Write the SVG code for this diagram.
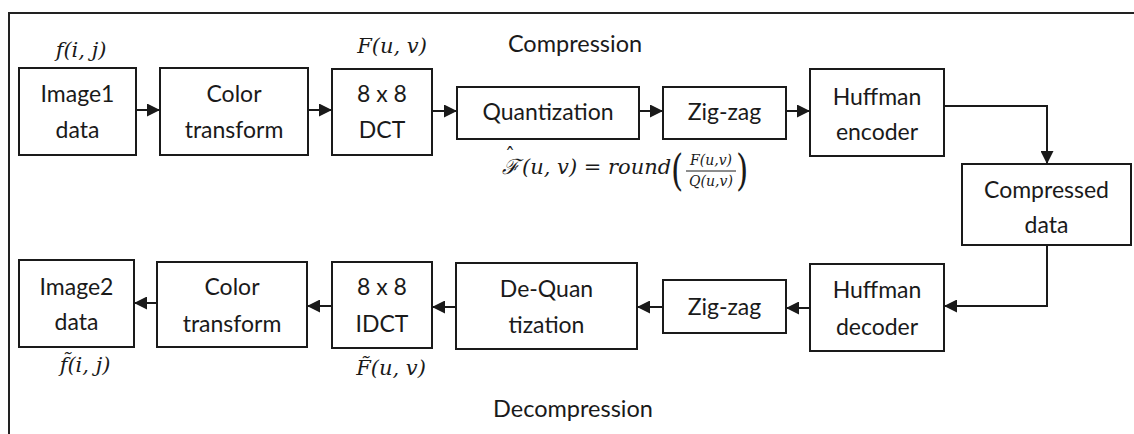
<svg xmlns="http://www.w3.org/2000/svg" width="1134" height="434" viewBox="0 0 1134 434">
  <style>
    .box { fill: #ffffff; stroke: #1a1a1a; stroke-width: 2; }
    .lbl { font-family: Lato, "Liberation Sans", sans-serif; font-size: 23px; fill: #1a1a1a; text-anchor: middle; }
    .title { font-family: Lato, "Liberation Sans", sans-serif; font-size: 23.5px; fill: #1a1a1a; text-anchor: middle; }
    .math { font-family: "DejaVu Serif", "Liberation Serif", serif; font-style: italic; font-size: 21px; fill: #1a1a1a; }
    .mathsm { font-family: "DejaVu Serif", "Liberation Serif", serif; font-style: italic; font-size: 14px; fill: #1a1a1a; text-anchor: middle; }
    .accent { font-style: normal; font-size: 20px; }
    .paren { font-family: "DejaVu Serif", "Liberation Serif", serif; font-size: 42px; fill: #1a1a1a; }
    .wire { fill: none; stroke: #1a1a1a; stroke-width: 2; }
    .frame { fill: none; stroke: #222222; stroke-width: 2; }
  </style>
  <defs>
    <marker id="arrow" viewBox="0 0 10 10" refX="10" refY="5" markerWidth="6.5" markerHeight="6.5" markerUnits="strokeWidth" orient="auto">
      <path d="M0,0 L10,5 L0,10 Z" fill="#1a1a1a"/>
    </marker>
  </defs>

  <rect width="1134" height="434" fill="#ffffff"/>
  <path class="frame" d="M9,434 V13 H1134"/>

  <!-- section titles -->
  <text class="title" x="575" y="52">Compression</text>
  <text class="title" x="573" y="417">Decompression</text>

  <!-- compression row -->
  <g id="image1">
    <rect class="box" x="19" y="68" width="117" height="87"/>
    <text class="lbl" x="77.5" y="102">Image1</text>
    <text class="lbl" x="77.5" y="138">data</text>
    <text class="math" x="81" y="57" text-anchor="middle">f(i, j)</text>
  </g>
  <g id="color-fwd">
    <rect class="box" x="160" y="68" width="148" height="87"/>
    <text class="lbl" x="234" y="102">Color</text>
    <text class="lbl" x="234" y="138">transform</text>
  </g>
  <g id="dct">
    <rect class="box" x="332" y="69" width="100" height="86"/>
    <text class="lbl" x="382" y="102">8 x 8</text>
    <text class="lbl" x="382" y="138">DCT</text>
    <text class="math" x="392" y="53" text-anchor="middle">F(u, v)</text>
  </g>
  <g id="quant">
    <rect class="box" x="457" y="87" width="182" height="52"/>
    <text class="lbl" x="548" y="120">Quantization</text>
    <!-- quantization formula: F-hat(u,v) = round(F/Q) -->
    <text class="math" x="502" y="174">ℱ<tspan class="accent" x="505" dy="-11">ˆ</tspan><tspan x="522" dy="11">(u, v) = round</tspan></text>
    <text class="paren" x="671" y="185" transform="translate(671,185) scale(0.75,1) translate(-671,-185)">(</text>
    <text class="mathsm" x="711" y="165">F(u,v)</text>
    <line x1="686" y1="171" x2="736" y2="171" stroke="#1a1a1a" stroke-width="1"/>
    <text class="mathsm" x="711" y="186">Q(u,v)</text>
    <text class="paren" x="736" y="185" transform="translate(736,185) scale(0.75,1) translate(-736,-185)">)</text>
  </g>
  <g id="zigzag-fwd">
    <rect class="box" x="663" y="87" width="123" height="52"/>
    <text class="lbl" x="724.5" y="120">Zig-zag</text>
  </g>
  <g id="huff-enc">
    <rect class="box" x="810" y="69" width="134" height="87"/>
    <text class="lbl" x="877" y="105">Huffman</text>
    <text class="lbl" x="877" y="140">encoder</text>
  </g>
  <g id="compressed">
    <rect class="box" x="962" y="164" width="169" height="81"/>
    <text class="lbl" x="1046.5" y="198">Compressed</text>
    <text class="lbl" x="1046.5" y="233">data</text>
  </g>

  <!-- decompression row -->
  <g id="huff-dec">
    <rect class="box" x="810" y="264" width="134" height="87"/>
    <text class="lbl" x="877" y="298">Huffman</text>
    <text class="lbl" x="877" y="335">decoder</text>
  </g>
  <g id="zigzag-inv">
    <rect class="box" x="663" y="280" width="123" height="53"/>
    <text class="lbl" x="724.5" y="315">Zig-zag</text>
  </g>
  <g id="dequant">
    <rect class="box" x="456" y="263" width="181" height="86"/>
    <text class="lbl" x="546.5" y="297">De-Quan</text>
    <text class="lbl" x="546.5" y="333">tization</text>
  </g>
  <g id="idct">
    <rect class="box" x="332" y="262" width="100" height="86"/>
    <text class="lbl" x="382" y="295">8 x 8</text>
    <text class="lbl" x="382" y="332">IDCT</text>
    <text class="math" x="391" y="375" text-anchor="middle">F̃(u, v)</text>
  </g>
  <g id="color-inv">
    <rect class="box" x="157" y="262" width="150" height="85"/>
    <text class="lbl" x="232" y="295">Color</text>
    <text class="lbl" x="232" y="332">transform</text>
  </g>
  <g id="image2">
    <rect class="box" x="19" y="260" width="115" height="87"/>
    <text class="lbl" x="76.5" y="295">Image2</text>
    <text class="lbl" x="76.5" y="330">data</text>
    <text class="math" x="85" y="372" text-anchor="middle">f̃(i, j)</text>
  </g>

  <!-- connectors -->
  <g id="connectors">
    <line class="wire" x1="136" y1="110" x2="160" y2="110" marker-end="url(#arrow)"/>
    <line class="wire" x1="308" y1="110" x2="332" y2="110" marker-end="url(#arrow)"/>
    <line class="wire" x1="432" y1="111" x2="457" y2="111" marker-end="url(#arrow)"/>
    <line class="wire" x1="639" y1="111" x2="663" y2="111" marker-end="url(#arrow)"/>
    <line class="wire" x1="786" y1="111" x2="810" y2="111" marker-end="url(#arrow)"/>
    <path class="wire" d="M944,106 H1047 V164" marker-end="url(#arrow)"/>
    <path class="wire" d="M1047,245 V306 H944" marker-end="url(#arrow)"/>
    <line class="wire" x1="810" y1="308" x2="786" y2="308" marker-end="url(#arrow)"/>
    <line class="wire" x1="663" y1="307" x2="637" y2="307" marker-end="url(#arrow)"/>
    <line class="wire" x1="456" y1="307" x2="432" y2="307" marker-end="url(#arrow)"/>
    <line class="wire" x1="332" y1="306" x2="307" y2="306" marker-end="url(#arrow)"/>
    <line class="wire" x1="157" y1="303" x2="134" y2="303" marker-end="url(#arrow)"/>
  </g>
</svg>
